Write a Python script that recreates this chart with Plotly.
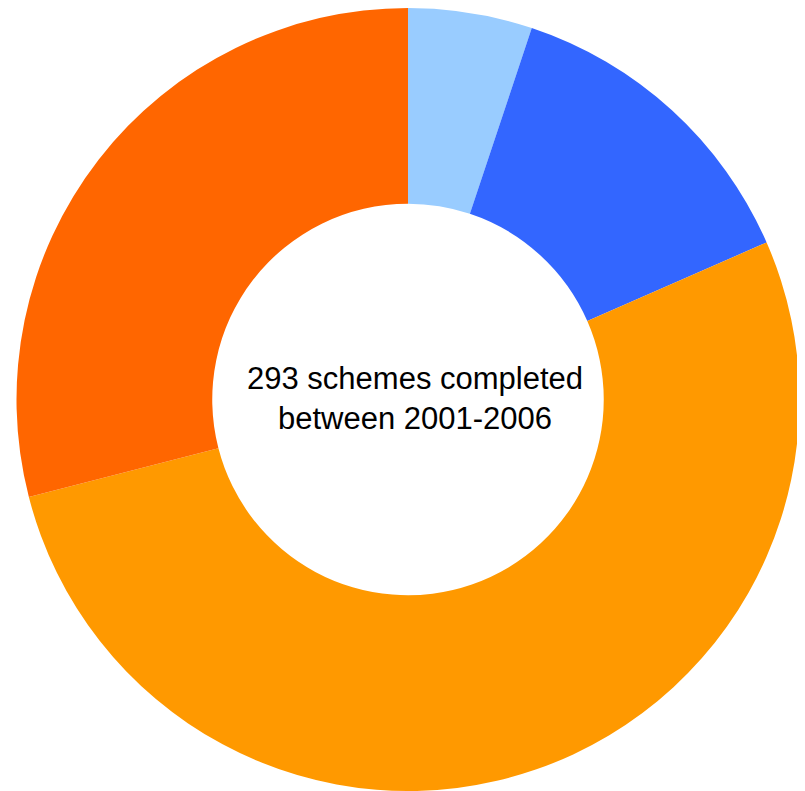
import plotly.graph_objects as go

categories = ["Category A", "Category B", "Category C", "Category D"]
values = [15, 39, 154, 85]
colors = ["#99CCFF", "#3366FF", "#FF9900", "#FF6600"]
center_text = "293 schemes completed<br>between 2001-2006"

# page body has an 8px margin, so figure coordinates = screen - 8
W, H = 797, 783
cx, r = 400, 391.5

fig = go.Figure(go.Pie(
    labels=categories,
    values=values,
    marker=dict(colors=colors, line=dict(width=0)),
    hole=0.5,
    sort=False,
    direction="clockwise",
    rotation=0,
    textinfo="none",
    hoverinfo="label+value+percent",
    showlegend=False,
    domain=dict(x=[(cx - r) / W, (cx + r) / W], y=[0, 1]),
))

fig.add_annotation(
    text=center_text, x=407 / W, y=1 - 391 / H, xref="paper", yref="paper",
    showarrow=False, font=dict(family="Liberation Sans, Arial", size=31, color="#000000"),
    xanchor="center", yanchor="middle", align="center",
)

fig.update_layout(
    width=W, height=H, margin=dict(l=0, r=0, t=0, b=0),
    paper_bgcolor="white", plot_bgcolor="white",
)

fig.write_html("out.html")
